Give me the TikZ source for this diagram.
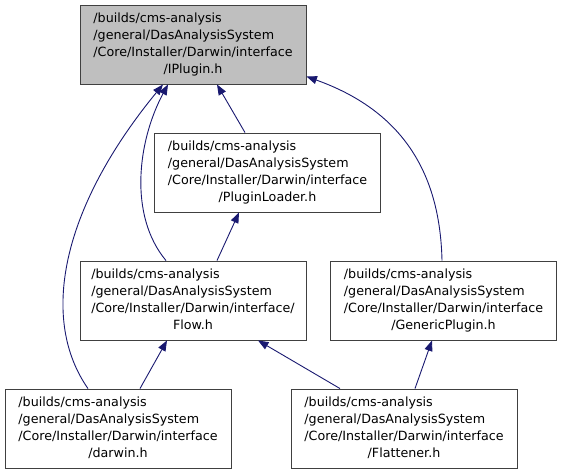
\documentclass[tikz,border=0pt]{standalone}
\usepackage{fontspec}
\setmainfont{DejaVu Sans}
\usetikzlibrary{arrows.meta}
\definecolor{edgecol}{HTML}{191970}
\definecolor{boxgrey}{HTML}{BFBFBF}
\definecolor{boxline}{HTML}{404040}
\newcommand{\fileboxtext}[2]{\begin{tabular}{@{}l@{}}/builds/cms-analysis\\/general/DasAnalysisSystem\\#1\\\multicolumn{1}{@{}c@{}}{#2}\end{tabular}}
\begin{document}
\begin{tikzpicture}[x=1pt,y=-1pt,
  file/.style={draw=boxline, line width=0.9pt, minimum width=226pt, minimum height=79pt, inner sep=0pt, font=\fontsize{12.7}{17.3}\selectfont},
  edge/.style={draw=edgecol, line width=0.9pt, -{Triangle[length=10.5pt,width=8pt]}}]
\useasboundingbox (0,0) rectangle (562,475);
\node[file, fill=boxgrey] (iplugin) at (193,44.5) {\fileboxtext{/Core/Installer/Darwin/interface}{/IPlugin.h}};
\node[file] (loader) at (267.5,172.5) {\fileboxtext{/Core/Installer/Darwin/interface}{/PluginLoader.h}};
\node[file] (flow) at (193,300.5) {\fileboxtext{/Core/Installer/Darwin/interface/}{Flow.h}};
\node[file] (generic) at (443.5,300.5) {\fileboxtext{/Core/Installer/Darwin/interface}{/GenericPlugin.h}};
\node[file] (darwin) at (118,428.5) {\fileboxtext{/Core/Installer/Darwin/interface}{/darwin.h}};
\node[file] (flattener) at (404,428.5) {\fileboxtext{/Core/Installer/Darwin/interface}{/Flattener.h}};
\draw[edge] ([xshift=-30pt]darwin.north) .. controls (40,320) and (60,210) .. ([xshift=-30pt]iplugin.south);
\draw[edge] ([xshift=-27pt]flow.north) .. controls (128,215) and (138,140) .. ([xshift=-25pt]iplugin.south);
\draw[edge] ([xshift=-22.5pt]loader.north) -- ([xshift=24pt]iplugin.south);
\draw[edge] ([xshift=-1.5pt]generic.north) .. controls (440,170) and (400,110) .. ([yshift=-32pt]iplugin.east);
\draw[edge] ([xshift=24pt]flow.north) -- ([xshift=-28.5pt]loader.south);
\draw[edge] ([xshift=22pt]darwin.north) -- ([xshift=-26pt]flow.south);
\draw[edge] ([xshift=-64pt]flattener.north) -- ([xshift=65pt]flow.south);
\draw[edge] ([xshift=11pt]flattener.north) -- ([xshift=-11.5pt]generic.south);
\end{tikzpicture}
\end{document}
